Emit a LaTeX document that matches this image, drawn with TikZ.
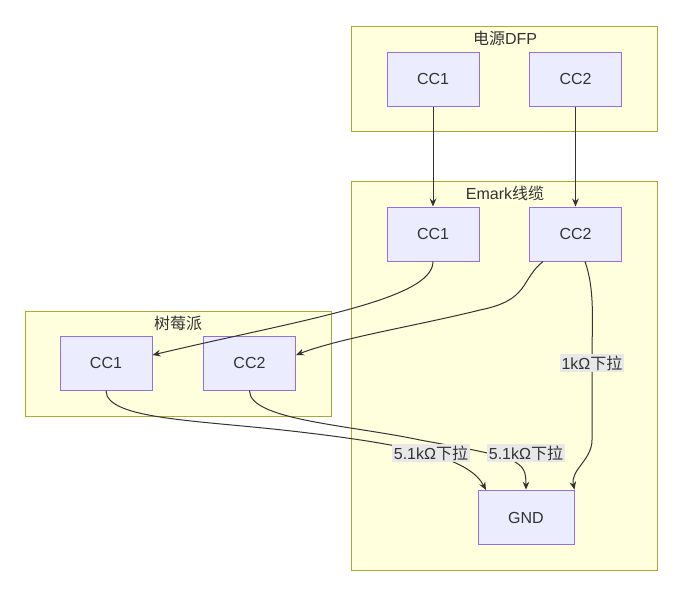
\documentclass[tikz,border=0pt]{standalone}
\usepackage{fontspec}
\setmainfont{Liberation Sans}
\newfontfamily\cjk{Noto Sans CJK SC}
\usetikzlibrary{arrows.meta}
\definecolor{nfill}{HTML}{ECECFF}
\definecolor{nline}{HTML}{9370DB}
\definecolor{cfill}{HTML}{FFFFDE}
\definecolor{cline}{HTML}{AAAA33}
\definecolor{lbl}{HTML}{E8E8E8}
\definecolor{edge}{HTML}{333333}
\begin{document}
\begin{tikzpicture}[x=0.75pt,y=-0.75pt,
 cl/.style={draw=cline,fill=cfill,line width=0.75pt},
 ttl/.style={font=\fontsize{12}{14}\selectfont,text=edge},
 nd/.style={draw=nline,fill=nfill,line width=0.75pt,minimum width=69pt,minimum height=40.5pt,inner sep=0pt,font=\fontsize{12}{14}\selectfont,text=edge},
 ar/.style={draw=edge,line width=0.75pt,-{Stealth[length=6pt,width=5pt]}},
 el/.style={fill=lbl,inner sep=1.5pt,font=\fontsize{12}{14}\selectfont,text=edge}]
\useasboundingbox (0,0) rectangle (685,590);
\fill[white] (0,0) rectangle (685,590);
\draw[cl] (351,26) rectangle (657,131);
\node[ttl] (t1) at (505,38) {{\cjk 电源}DFP};
\draw[cl] (351,181) rectangle (657,570);
\node[ttl] (t2) at (505,193) {Emark{\cjk 线缆}};
\draw[cl] (25,311) rectangle (331,416);
\node[ttl] (t3) at (178,323) {\cjk 树莓派};
\node[nd] (d1) at (433,79) {CC1};
\node[nd] (d2) at (575.5,79) {CC2};
\node[nd] (e1) at (433,234) {CC1};
\node[nd] (e2) at (575.5,234) {CC2};
\node[nd] (r1) at (106,363) {CC1};
\node[nd] (r2) at (249.5,363) {CC2};
\node[nd,minimum width=72pt,minimum height=41pt] (g) at (526,517.5) {GND};
\draw[ar] (d1) -- (e1);
\draw[ar] (d2) -- (e2);
\draw[ar] (e1.south) .. controls (433,300) and (300,320) .. (r1.east |- 0,355);
\draw[ar] (e2.south west)++(14,0) .. controls (520,280) and (530,300) .. (480,310) .. controls (420,325) and (340,338) .. (r2.east |- 0,355);
\draw[ar] (e2.south east)++(-37,0) .. controls (595,290) and (592,320) .. (592,360) -- (592,440) .. controls (592,460) and (570,470) .. (g.north east);
\draw[ar] (r1.south) .. controls (106,420) and (200,420) .. (300,432) .. controls (420,446) and (470,460) .. (486,490);
\draw[ar] (r2.south) .. controls (249,420) and (350,425) .. (420,440) .. controls (520,458) and (526,460) .. (g.north);
\node[el] (l1) at (592,363) {1kΩ{\cjk 下拉}};
\node[el] (l2) at (431,453) {5.1kΩ{\cjk 下拉}};
\node[el] (l3) at (526,453) {5.1kΩ{\cjk 下拉}};
\end{tikzpicture}
\end{document}
